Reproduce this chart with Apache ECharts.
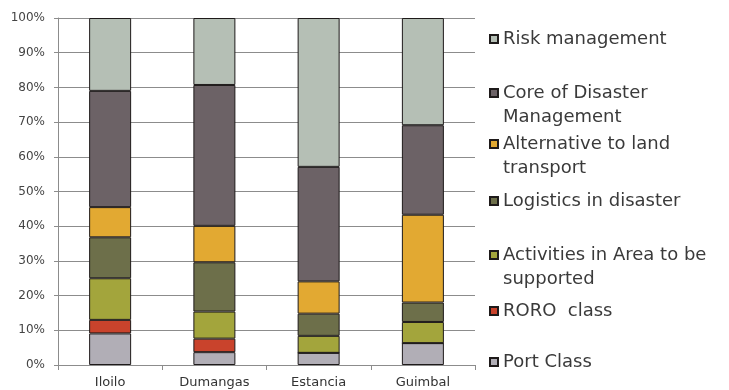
<!DOCTYPE html>
<html>
<head>
<meta charset="utf-8">
<script src="https://cdn.jsdelivr.net/npm/echarts@6/dist/echarts.min.js"></script>
<style>
  html, body { margin: 0; padding: 0; background: #fff; }
  #chart { width: 729px; height: 390px; }
</style>
</head>
<body>
<div id="chart"></div>
<script>
// Ports compared
const ports = ['Iloilo', 'Dumangas', 'Estancia', 'Guimbal'];

// Share of each evaluation item per port (percent, stacked to 100)
const portClass      = [9.1, 3.7, 3.5, 6.3];
const roroClass      = [3.9, 3.9, 0, 0];
const activitiesArea = [12.0, 7.8, 4.9, 6.1];
const logistics      = [11.8, 14.2, 6.4, 5.6];
const altTransport   = [8.7, 10.5, 9.3, 25.3];
const coreDisaster   = [33.5, 40.6, 33.0, 25.8];
const riskMgmt       = [21.0, 19.3, 42.9, 30.9];

const seriesDefs = [
  { name: 'Port Class', data: portClass, color: '#b1aeb6' },
  { name: 'RORO  class', data: roroClass, color: '#c9432c' },
  { name: 'Activities in Area to be supported', data: activitiesArea, color: '#a3a53c' },
  { name: 'Logistics in disaster', data: logistics, color: '#6d6f4a' },
  { name: 'Alternative to land transport', data: altTransport, color: '#e2a932' },
  { name: 'Core of Disaster Management', data: coreDisaster, color: '#6c6266' },
  { name: 'Risk management', data: riskMgmt, color: '#b5bfb5' }
];

// Legend entries (top to bottom) and how their text wraps
const legendRows = [
  { name: 'Risk management', lines: ['Risk management'], top: 27 },
  { name: 'Core of Disaster Management', lines: ['Core of Disaster', 'Management'], top: 57 },
  { name: 'Alternative to land transport', lines: ['Alternative to land', 'transport'], top: 108 },
  { name: 'Logistics in disaster', lines: ['Logistics in disaster'], top: 189 },
  { name: 'Activities in Area to be supported', lines: ['Activities in Area to be', 'supported'], top: 219 },
  { name: 'RORO  class', lines: ['RORO  class'], top: 299 },
  { name: 'Port Class', lines: ['Port Class'], top: 350 }
];

const FONT = 'DejaVu Sans';

// Wrapped entries get an empty leading line so the marker sits beside the first line
function legendText(lines) {
  return lines.length > 1 ? ' \n' + lines.join('\n') : lines[0];
}

const chart = echarts.init(document.getElementById('chart'), null, { renderer: 'canvas' });

chart.setOption({
  animation: false,
  backgroundColor: '#ffffff',
  grid: { left: 58, right: 254, top: 18, bottom: 25, containLabel: false },
  legend: legendRows.map(r => ({
    data: [r.name],
    left: 489,
    top: r.top,
    padding: 0,
    itemWidth: 8,
    itemHeight: 8,
    icon: 'rect',
    selectedMode: false,
    formatter: () => legendText(r.lines),
    textStyle: {
      fontFamily: FONT,
      fontSize: 18,
      color: '#3a3a3a',
      lineHeight: 24
    }
  })),
  xAxis: {
    type: 'category',
    data: ports,
    axisLine: { lineStyle: { color: '#8c8c8c', width: 1 } },
    axisTick: { show: true, length: 5, alignWithLabel: false, lineStyle: { color: '#8c8c8c' } },
    axisLabel: { fontFamily: FONT, fontSize: 13, color: '#333', margin: 11 }
  },
  yAxis: {
    type: 'value',
    min: 0,
    max: 100,
    interval: 10,
    axisLine: { show: true, lineStyle: { color: '#8c8c8c', width: 1 } },
    axisTick: { show: true, length: 4, lineStyle: { color: '#8c8c8c' } },
    axisLabel: { fontFamily: FONT, fontSize: 12, color: '#444', margin: 13, formatter: '{value}%' },
    splitLine: { show: true, lineStyle: { color: '#8c8c8c', width: 1 } }
  },
  series: seriesDefs.map(s => ({
    name: s.name,
    type: 'bar',
    stack: 'total',
    data: s.data,
    barWidth: 42,
    itemStyle: { color: s.color, borderColor: '#1e1a1a', borderWidth: 1 }
  }))
});
</script>
</body>
</html>
